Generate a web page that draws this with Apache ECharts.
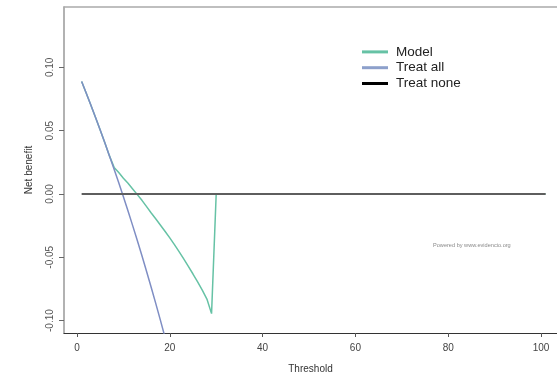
<!DOCTYPE html>
<html>
<head>
<meta charset="utf-8">
<script src="https://cdn.jsdelivr.net/npm/echarts@6/dist/echarts.min.js"></script>
<style>
  html, body { margin: 0; padding: 0; background: #fff; }
  #chart { width: 557px; height: 379px; }
</style>
</head>
<body>
<div id="chart"></div>
<script>
// Decision curve: net benefit against threshold probability (%)
const seriesNames = ['Model', 'Treat all', 'Treat none'];

const modelThreshold = [1, 2, 3, 4, 5, 6, 7, 8, 9, 10, 11, 12, 13, 14, 15, 16, 17, 18, 19, 20,
  21, 22, 23, 24, 25, 26, 27, 28, 29, 30, 101];
const modelNetBenefit = [0.0889, 0.0796, 0.0701, 0.0604, 0.0505, 0.0404, 0.0301, 0.0210, 0.0170, 0.0125,
  0.0085, 0.0040, -0.0005, -0.0050, -0.0100, -0.0150, -0.0198, -0.0247, -0.0296, -0.0347,
  -0.0400, -0.0455, -0.0512, -0.0571, -0.0632, -0.0695, -0.0760, -0.0830, -0.0945, 0, 0];

const treatAllThreshold = [1, 2, 3, 4, 5, 6, 7, 8, 9, 10, 11, 12, 13, 14, 15, 16, 17, 18, 19];
const treatAllNetBenefit = [0.0889, 0.0796, 0.0701, 0.0604, 0.0505, 0.0404, 0.0301, 0.0196, 0.0088, -0.0022,
  -0.0135, -0.0250, -0.0368, -0.0488, -0.0612, -0.0738, -0.0868, -0.1000, -0.1136];

const treatNoneThreshold = [1, 101];
const treatNoneNetBenefit = [0, 0];

const xTicks = [0, 20, 40, 60, 80, 100];
const yTicks = [-0.1, -0.05, 0, 0.05, 0.1];

const pairs = (xs, ys) => xs.map((x, i) => [x, ys[i]]);

const chart = echarts.init(document.getElementById('chart'), null, { renderer: 'canvas' });
const font = 'Liberation Sans, Arial, sans-serif';

chart.setOption({
  animation: false,
  backgroundColor: '#ffffff',
  grid: { left: 64, top: 7, right: 0, bottom: 46, containLabel: false },
  legend: {
    orient: 'vertical',
    left: 357,
    top: 39,
    icon: 'rect',
    itemWidth: 26,
    itemHeight: 3,
    itemGap: 0,
    textStyle: { fontFamily: font, fontSize: 13.5, lineHeight: 15.8, color: '#222', padding: [0, 0, 0, 3] },
    data: [
      { name: 'Model', itemStyle: { color: '#66c2a5' } },
      { name: 'Treat all', itemStyle: { color: '#8da0cb' } },
      { name: 'Treat none', itemStyle: { color: '#000' } }
    ]
  },
  xAxis: [{
    type: 'value',
    min: -2.8,
    max: 103.45,
    name: 'Threshold',
    nameLocation: 'middle',
    nameGap: 31,
    nameTextStyle: { fontFamily: font, fontSize: 10, color: '#333' },
    splitLine: { show: false },
    axisLine: { show: true, onZero: false, lineStyle: { color: '#333', width: 1.2 } },
    axisTick: { show: true, length: 4, customValues: xTicks, lineStyle: { color: '#555' } },
    axisLabel: { customValues: xTicks, fontFamily: font, fontSize: 10, color: '#444', margin: 10 }
  }, {
    type: 'value',
    position: 'top',
    min: -2.8,
    max: 103.45,
    splitLine: { show: false },
    axisLine: { show: true, onZero: false, lineStyle: { color: '#aaa', width: 1.5 } },
    axisTick: { show: false },
    axisLabel: { show: false }
  }],
  yAxis: {
    type: 'value',
    min: -0.1098,
    max: 0.1477,
    name: 'Net benefit',
    nameLocation: 'middle',
    nameGap: 30,
    nameTextStyle: { fontFamily: font, fontSize: 10, color: '#333' },
    splitLine: { show: false },
    axisLine: { show: true, onZero: false, lineStyle: { color: '#999', width: 1.5 } },
    axisTick: { show: true, length: 5, customValues: yTicks, lineStyle: { color: '#666' } },
    axisLabel: {
      customValues: yTicks,
      rotate: 90,
      fontFamily: font,
      fontSize: 10,
      color: '#555',
      margin: 9,
      formatter: v => v.toFixed(2)
    }
  },
  series: [
    {
      name: 'Model',
      type: 'line',
      symbol: 'none',
      color: '#66c2a5',
      lineStyle: { color: '#66c2a5', width: 1.5 },
      data: pairs(modelThreshold, modelNetBenefit),
      z: 2
    },
    {
      name: 'Treat all',
      type: 'line',
      symbol: 'none',
      color: '#8da0cb',
      lineStyle: { color: '#7f8ec4', width: 1.5 },
      data: pairs(treatAllThreshold, treatAllNetBenefit),
      z: 3
    },
    {
      name: 'Treat none',
      type: 'line',
      symbol: 'none',
      color: '#000',
      lineStyle: { color: '#5e5e5e', width: 2 },
      data: pairs(treatNoneThreshold, treatNoneNetBenefit),
      z: 4
    }
  ],
  graphic: [{
    type: 'text',
    left: 433,
    top: 242,
    style: {
      text: 'Powered by www.evidencio.org',
      font: '5.6px ' + font,
      fill: '#8a8a8a'
    }
  }]
});
</script>
</body>
</html>
